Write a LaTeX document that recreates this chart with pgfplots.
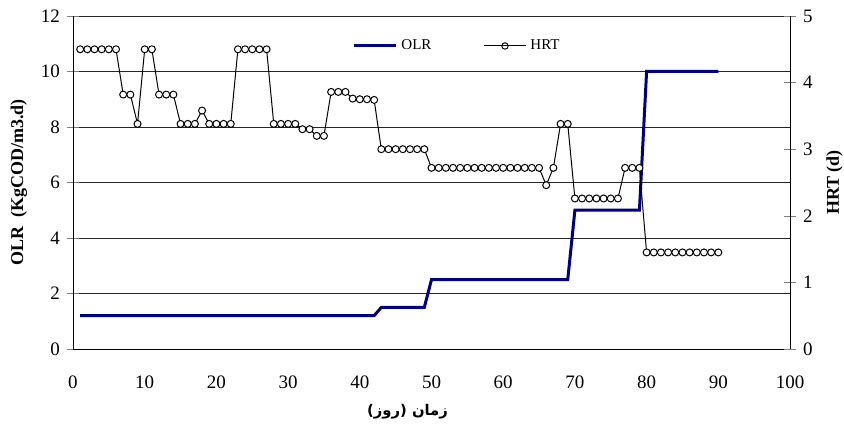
\documentclass[border=0pt]{standalone}
\usepackage{fontspec}
\setmainfont{Liberation Serif}
\newfontfamily\arabicfont[Script=Arabic]{DejaVu Sans}
\TeXXeTstate=1
\usepackage{pgfplots}
\pgfplotsset{compat=1.18}
\definecolor{olrblue}{HTML}{000080}

% HRT per day
\pgfplotstableread{
day hrt
1 4.5
2 4.5
3 4.5
4 4.5
5 4.5
6 4.5
7 3.82
8 3.82
9 3.38
10 4.5
11 4.5
12 3.82
13 3.82
14 3.82
15 3.38
16 3.38
17 3.38
18 3.58
19 3.38
20 3.38
21 3.38
22 3.38
23 4.5
24 4.5
25 4.5
26 4.5
27 4.5
28 3.38
29 3.38
30 3.38
31 3.38
32 3.30
33 3.30
34 3.20
35 3.20
36 3.86
37 3.86
38 3.86
39 3.76
40 3.75
41 3.75
42 3.74
43 3.0
44 3.0
45 3.0
46 3.0
47 3.0
48 3.0
49 3.0
50 2.72
51 2.72
52 2.72
53 2.72
54 2.72
55 2.72
56 2.72
57 2.72
58 2.72
59 2.72
60 2.72
61 2.72
62 2.72
63 2.72
64 2.72
65 2.72
66 2.46
67 2.72
68 3.38
69 3.38
70 2.26
71 2.26
72 2.26
73 2.26
74 2.26
75 2.26
76 2.26
77 2.72
78 2.72
79 2.72
80 1.45
81 1.45
82 1.45
83 1.45
84 1.45
85 1.45
86 1.45
87 1.45
88 1.45
89 1.45
90 1.45
}\hrtdata

\begin{document}
\begin{tikzpicture}
\pgfplotsset{
  every axis/.append style={
    scale only axis,
    width=358.5pt, height=166.5pt,
    xmin=0, xmax=100,
    tick label style={font=\fontsize{9.5}{10}\selectfont},
    label style={font=\fontsize{9}{10}\selectfont\bfseries},
    /pgf/number format/assume math mode=true,
    tick align=center,
    major tick length=6pt,
  },
}
\begin{axis}[
  name=main,
  axis x line*=bottom,
  axis y line*=left,
  ymin=0, ymax=12,
  ytick={0,2,...,12},
  xtick={0,10,...,100},
  xtick style={draw=none},
  xticklabel style={yshift=-7pt},
  ymajorgrids,
  major grid style={black!85, line width=0.4pt},
  ylabel={OLR\ \ (KgCOD/m3.d)},
  ylabel style={yshift=0pt},
  xlabel={\arabicfont\bfseries\fontsize{7.4}{9}\selectfont\beginR زمان (روز)\endR},
  xlabel style={yshift=-1pt, xshift=-12pt},
  legend style={at={(0.537,0.91)}, anchor=center, draw=none, fill=none,
    legend columns=2, font=\fontsize{7.5}{9}\selectfont,
    /tikz/every even column/.append style={column sep=24pt}},
  legend cell align=left,
  legend image code/.code={%
    \draw[mark repeat=2, mark phase=2, #1]
      plot coordinates {(0pt,0pt) (10.5pt,0pt) (21pt,0pt)};},
]
\addplot[olrblue, line width=1.5pt] coordinates {
  (1,1.2) (42,1.2) (43,1.5) (49,1.5) (50,2.5) (69,2.5)
  (70,5) (79,5) (80,10) (90,10)
};
\addlegendentry{OLR}
\addlegendimage{black, line width=0.5pt, mark=o, mark size=1.6pt,
  mark options={fill=white, line width=0.5pt}}
\addlegendentry{HRT}
\end{axis}
\begin{axis}[
  axis x line=none,
  axis y line*=right,
  ymin=0, ymax=5,
  ytick={0,1,...,5},
  ylabel={HRT (d)},
]
\addplot[black, line width=0.5pt, mark=*, mark size=1.75pt,
  mark options={fill=white, draw=black, line width=0.5pt}]
  table[x=day, y=hrt] {\hrtdata};
\end{axis}
\pgfresetboundingbox
\path (main.south west) ++(-36.5pt,-49.5pt) coordinate (bbl);
\path (main.north east) ++(27pt,8pt) coordinate (btr);
\path (bbl) rectangle (btr);
\end{tikzpicture}
\end{document}
